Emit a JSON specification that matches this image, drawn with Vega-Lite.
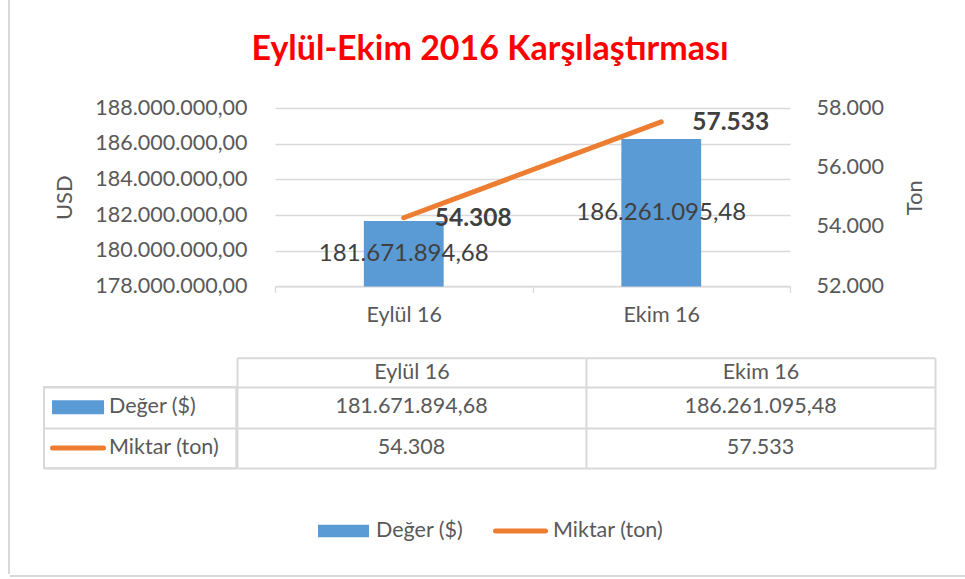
{
  "$schema": "https://vega.github.io/schema/vega-lite/v6.json",
  "padding": {"left": 8, "top": 0, "right": 0, "bottom": 0},
  "background": "white",
  "config": {
    "view": {"stroke": null},
    "font": "Lato",
    "axis": {"labelFont": "Lato", "titleFont": "Lato"},
    "text": {"font": "Lato"},
    "locale": {"number": {"decimal": ",", "thousands": ".", "grouping": [3], "currency": ["", " $"]}}
  },
  "datasets": {
    "months": [
      {"month": "Eylül 16", "usd": 181671894.68, "ton": 54308},
      {"month": "Ekim 16", "usd": 186261095.48, "ton": 57533}
    ],
    "table": [
      {"month": "Eylül 16", "series": "Değer ($)", "value": 181671894.68},
      {"month": "Ekim 16", "series": "Değer ($)", "value": 186261095.48},
      {"month": "Eylül 16", "series": "Miktar (ton)", "value": 54308},
      {"month": "Ekim 16", "series": "Miktar (ton)", "value": 57533}
    ],
    "series": [{"series": "Değer ($)"}, {"series": "Miktar (ton)"}],
    "one": [{}]
  },
  "spacing": 0,
  "hconcat": [
    {
      "width": 2,
      "height": 574,
      "data": {"name": "one"},
      "mark": {"type": "rect", "color": "#d9d9d9"},
      "encoding": {}
    },
    {
      "spacing": 30,
      "vconcat": [
        {
          "width": 960,
          "height": 67,
          "data": {"name": "one"},
          "mark": {"type": "text", "text": "Eylül-Ekim 2016 Karşılaştırması", "fontSize": 34, "fontWeight": "bold", "color": "#ff0000", "baseline": "middle", "dy": 16.5},
          "encoding": {}
        },
        {
          "spacing": 0,
          "hconcat": [
            {
              "width": 42.5,
              "height": 10,
              "data": {"name": "one"},
              "mark": {"type": "text", "text": ""},
              "encoding": {}
            },
            {
              "data": {"name": "months"},
              "width": 515,
              "height": 178.4,
              "encoding": {
                "x": {
                  "field": "month", "type": "nominal", "sort": null,
                  "scale": {"paddingInner": 0, "paddingOuter": 0},
                  "axis": {"title": null, "labelAngle": 0, "labelFontSize": 21.5, "labelColor": "#595959", "labelPadding": 12,
                    "ticks": true, "tickSize": 6, "tickColor": "#d9d9d9", "tickWidth": 1.3, "tickBand": "extent",
                    "domain": true, "domainColor": "#d9d9d9", "domainWidth": 1.3, "grid": false}
                }
              },
              "layer": [
                {
                  "mark": {"type": "bar", "color": "#5b9bd5", "width": {"band": 0.31}, "clip": true},
                  "encoding": {
                    "y": {
                      "field": "usd", "type": "quantitative",
                      "scale": {"domain": [178000000, 188000000], "zero": false, "nice": false},
                      "axis": {"orient": "left", "values": [178000000, 180000000, 182000000, 184000000, 186000000, 188000000], "format": ",.2f",
                        "title": "USD", "grid": true, "gridColor": "#d9d9d9", "gridWidth": 1.3, "ticks": false, "domain": false,
                        "labelFontSize": 21.5, "labelColor": "#595959", "labelPadding": 28,
                        "titleFontSize": 22, "titleFontWeight": "normal", "titleColor": "#595959", "titlePadding": 18}
                    }
                  }
                },
                {
                  "mark": {"type": "text", "fontSize": 24, "color": "#404040", "baseline": "middle"},
                  "encoding": {
                    "y": {"field": "usd", "type": "quantitative", "scale": {"domain": [178000000, 198000000], "zero": false, "nice": false}, "axis": null},
                    "text": {"field": "usd", "type": "quantitative", "format": ",.2f"}
                  }
                },
                {
                  "encoding": {
                    "y": {
                      "field": "ton", "type": "quantitative",
                      "scale": {"domain": [52000, 58000], "zero": false, "nice": false},
                      "axis": {"orient": "right", "values": [52000, 54000, 56000, 58000], "format": ",d",
                        "title": "Ton", "grid": false, "ticks": false, "domain": false,
                        "labelFontSize": 21.5, "labelColor": "#595959", "labelPadding": 26,
                        "titleFontSize": 22, "titleFontWeight": "normal", "titleColor": "#595959", "titlePadding": 21,
                        "titleAngle": 270, "titleBaseline": "top"}
                    }
                  },
                  "layer": [
                    {"mark": {"type": "line", "color": "#ed7d31", "strokeWidth": 5, "strokeCap": "round"}},
                    {
                      "mark": {"type": "text", "align": "left", "dx": 31, "dy": 1, "fontSize": 24.5, "fontWeight": "bold", "color": "#404040", "baseline": "middle"},
                      "encoding": {"text": {"field": "ton", "type": "quantitative", "format": ",d"}}
                    }
                  ]
                }
              ],
              "resolve": {"scale": {"y": "independent"}}
            }
          ]
        },
        {
          "spacing": 0,
          "bounds": "flush",
          "hconcat": [
            {
              "width": 33.7,
              "height": 10,
              "data": {"name": "one"},
              "mark": {"type": "text", "text": ""},
              "encoding": {}
            },
            {
              "data": {"name": "series"},
              "width": 192.3,
              "height": 81.2,
              "view": {"stroke": "#d9d9d9", "strokeWidth": 2},
              "encoding": {
                "y": {
                  "field": "series", "type": "nominal",
                  "scale": {"domain": ["Değer ($)", "Miktar (ton)"], "paddingInner": 0, "paddingOuter": 0},
                  "axis": {"title": null, "labels": false, "ticks": false, "domain": false, "grid": true, "gridColor": "#d9d9d9", "gridWidth": 2, "tickBand": "extent"}
                },
                "x": {"datum": "key", "type": "nominal", "scale": {"type": "point", "domain": ["key"], "align": 0.177}, "axis": null}
              },
              "layer": [
                {
                  "transform": [{"filter": "datum.series === 'Değer ($)'"}],
                  "mark": {"type": "point", "shape": "M-1,-0.27H1V0.27H-1Z", "filled": true, "color": "#5b9bd5", "size": 2704, "opacity": 1, "strokeWidth": 0}
                },
                {
                  "transform": [{"filter": "datum.series === 'Miktar (ton)'"}],
                  "mark": {"type": "point", "shape": "M-1,0H1", "filled": false, "color": "#ed7d31", "strokeWidth": 5, "strokeCap": "round", "size": 2601, "opacity": 1}
                },
                {
                  "mark": {"type": "text", "align": "left", "baseline": "middle", "dx": 31, "fontSize": 21.5, "color": "#595959"},
                  "encoding": {"text": {"field": "series", "type": "nominal"}}
                }
              ]
            },
            {
              "data": {"name": "table"},
              "width": 698,
              "height": 81.2,
              "encoding": {
                "x": {
                  "field": "month", "type": "nominal",
                  "scale": {"domain": ["Eylül 16", "Ekim 16"], "paddingInner": 0, "paddingOuter": 0},
                  "axis": {"orient": "top", "offset": 29.2, "title": null, "labelAngle": 0, "labelFontSize": 21.5, "labelColor": "#595959",
                    "labelPadding": 14.6, "labelBaseline": "middle",
                    "domain": true, "domainColor": "#d9d9d9", "domainWidth": 2,
                    "ticks": true, "tickSize": -29.2, "tickColor": "#d9d9d9", "tickWidth": 2, "tickBand": "extent",
                    "grid": true, "gridColor": "#d9d9d9", "gridWidth": 2}
                },
                "y": {
                  "field": "series", "type": "nominal",
                  "scale": {"domain": ["Değer ($)", "Miktar (ton)"], "paddingInner": 0, "paddingOuter": 0},
                  "axis": {"title": null, "labels": false, "ticks": false, "domain": false, "grid": true, "gridColor": "#d9d9d9", "gridWidth": 2, "tickBand": "extent"}
                }
              },
              "layer": [
                {
                  "transform": [{"filter": "datum.series === 'Değer ($)'"}],
                  "mark": {"type": "text", "fontSize": 21.5, "color": "#595959", "baseline": "middle"},
                  "encoding": {"text": {"field": "value", "type": "quantitative", "format": ",.2f"}}
                },
                {
                  "transform": [{"filter": "datum.series === 'Miktar (ton)'"}],
                  "mark": {"type": "text", "fontSize": 21.5, "color": "#595959", "baseline": "middle"},
                  "encoding": {"text": {"field": "value", "type": "quantitative", "format": ",d"}}
                }
              ]
            }
          ]
        },
        {
          "spacing": 0,
          "hconcat": [
            {
              "width": 245,
              "height": 10,
              "data": {"name": "one"},
              "mark": {"type": "text", "text": ""},
              "encoding": {}
            },
            {
              "data": {"name": "series"},
              "width": 354,
              "height": 44,
              "encoding": {
                "x": {"field": "series", "type": "nominal", "scale": {"type": "point", "domain": ["Değer ($)", "Miktar (ton)"], "padding": 0.5, "align": 0.5}, "axis": null},
                "y": {"datum": "row", "type": "nominal", "scale": {"type": "point", "domain": ["row"], "align": 0.682}, "axis": null}
              },
              "layer": [
                {
                  "transform": [{"filter": "datum.series === 'Değer ($)'"}],
                  "mark": {"type": "point", "shape": "M-1,-0.247H1V0.247H-1Z", "filled": true, "color": "#5b9bd5", "size": 2601, "opacity": 1, "strokeWidth": 0}
                },
                {
                  "transform": [{"filter": "datum.series === 'Miktar (ton)'"}],
                  "mark": {"type": "point", "shape": "M-1,0H1", "filled": false, "color": "#ed7d31", "strokeWidth": 5, "strokeCap": "round", "size": 2500, "opacity": 1}
                },
                {
                  "mark": {"type": "text", "align": "left", "baseline": "middle", "dx": 32.5, "fontSize": 21.5, "color": "#595959"},
                  "encoding": {"text": {"field": "series", "type": "nominal"}}
                }
              ]
            }
          ]
        },
        {
          "width": 960,
          "height": 2,
          "data": {"name": "one"},
          "mark": {"type": "rect", "color": "#d9d9d9"},
          "encoding": {}
        }
      ]
    }
  ]
}
